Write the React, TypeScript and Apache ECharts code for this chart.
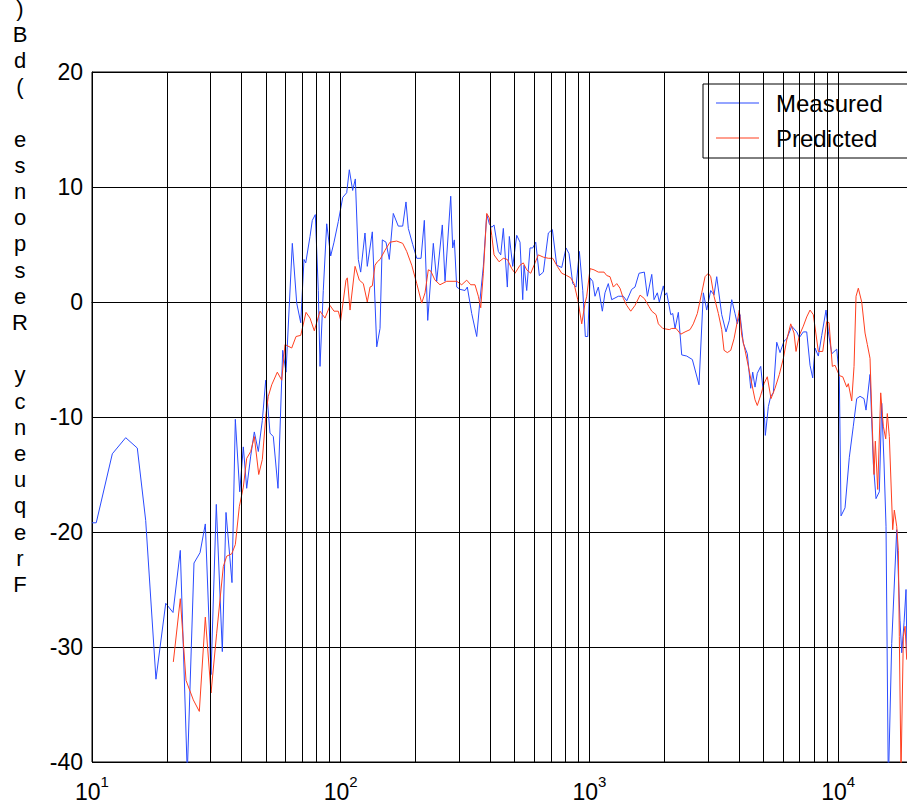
import React, { useEffect, useRef } from "react";
import * as echarts from "echarts";

const measuredFreq = [
  10, 10.4, 12.07, 13.66, 15.21, 16.44, 18.08, 19.79, 21.17, 22.65,
  24.16, 25.71, 27.19, 28.55, 30.1, 31.61, 33.42, 34.58, 36.55, 37.69,
  39.26, 40.59, 41.88, 43.46, 44.94, 46.64, 48.4, 49.94, 51.97, 53.58,
  55.96, 58.45, 60.27, 63.89, 66.55, 69.06, 71.19, 72.33, 75.27, 76.88,
  79.05, 81.27, 82.57, 85.11, 87.84, 91.15, 93.98, 97.8, 101.9, 105.7,
  108.3, 111.7, 114.5, 117.7, 120.3, 125.2, 127.9, 134, 139.6, 143.9,
  147, 152.1, 156.8, 162.7, 170.4, 177.5, 183, 187, 194.8, 202.2,
  210.4, 216.9, 223.8, 235.7, 243.2, 256.2, 262.7, 276.9, 282, 286.3,
  292.7, 301.8, 316.1, 322.9, 336.3, 352.3, 363.2, 374.5, 386.5, 395.9,
  404.8, 413.5, 430.3, 440, 450.7, 467.7, 476.4, 491.6, 510.2, 526,
  539.3, 545.8, 559.6, 577, 591.6, 608.3, 629, 652.8, 683.7, 709.5,
  738.9, 773.9, 805.4, 827.9, 857, 883.6, 911.1, 940.3, 962.9, 984.5,
  1006, 1031, 1053, 1086, 1127, 1155, 1191, 1229, 1307, 1369,
  1413, 1479, 1525, 1583, 1663, 1710, 1781, 1819, 1875, 1910,
  1982, 2014, 2046, 2123, 2163, 2210, 2278, 2350, 2461, 2593,
  2758, 2871, 2962, 3074, 3170, 3250, 3404, 3542, 3651, 3734,
  3850, 3932, 4032, 4157, 4314, 4452, 4535, 4633, 4732, 4884,
  5003, 5097, 5241, 5358, 5489, 5664, 5840, 6061, 6214, 6508,
  6816, 6982, 7245, 7476, 7709, 7904, 8074, 8325, 8592, 8941,
  9134, 9426, 9872, 10111, 10273, 10659, 11092, 11509, 11877, 12246,
  12706, 12945, 13434, 13849, 14200, 14642, 14970, 15294, 15579, 15916,
  16423, 17200, 17736, 18017, 18408, 18750, 18923,
];

const measuredDb = [
  -19.2, -19.2, -13.2, -11.8, -12.7, -19, -32.8, -26.2, -27, -21.6,
  -41, -22.7, -21.8, -19.3, -32.4, -17.6, -30.4, -18.3, -24.4, -10.2,
  -16.5, -12.6, -16.2, -13.4, -11.3, -13, -10.3, -6.8, -11.4, -11.7,
  -16.2, -4.2, -6.1, 5.1, -0.1, -1.8, 3.7, 3.4, 5.7, 7.1,
  7.6, 1.0, -5.6, 1.0, 6.8, 4.0, 5.2, 7.0, 9.1, 9.5,
  11.5, 9.7, 10.7, 3.7, 2.6, 6.0, 3.1, 6.1, -3.9, -2.3,
  5.4, 5.2, 3.7, 7.7, 6.6, 6.6, 8.7, 6.4, 5.0, 3.8,
  3.8, 7.1, -1.6, 5.1, 1.8, 6.7, 1.8, 9.2, 4.7, 5.4,
  1.3, 1.1, 1.0, 1.3, -1.0, -3.0, 0.2, 3.1, 7.6, 6.8,
  6.5, 6.7, 4.4, 4.1, 6.4, 1.3, 5.7, 3.1, 5.8, 5.2,
  0.2, 3.2, 1.0, 4.7, 4.7, 5.2, 2.3, 2.6, 6.0, 6.3,
  3.2, 3.0, 4.7, 4.2, 1.6, 1.3, 4.4, 1.0, -3.0, -3.0,
  2.1, 1.8, 0.5, 1.3, -0.8, 0.8, 1.6, 0.2, 0.5, 0.5,
  0.1, 1.1, 1.3, 2.5, 2.6, 0.5, 2.4, 0.2, 0.8, 0.0,
  1.4, 0.6, 0.8, -1.1, -1.0, -2.3, -0.9, -4.6, -4.7, -5.0,
  -7.2, 0.8, -0.7, 1.0, 0.6, 2.2, -1.1, -2.6, -1.6, 0.2,
  -1.0, -1.9, -1.1, -3.6, -4.5, -7.5, -6.1, -7.4, -6.2, -5.6,
  -7.9, -11.6, -9.1, -8.2, -7.9, -3.5, -4.4, -3.4, -3.2, -2.1,
  -2.6, -3.1, -2.6, -2.6, -5.5, -6.6, -4.0, -4.7, -2.9, -0.7,
  -2.6, -4.5, -4.1, -6.5, -18.6, -17.9, -13.5, -10.8, -8.4, -8.2,
  -8.4, -9.4, -6.3, -14.0, -17.1, -16.5, -8.8, -14.0, -19.5, -42,
  -29.7, -19.8, -27.7, -30.5, -27.9, -25.0, -31,
];

const predictedFreq = [
  21.23, 22.65, 23.88, 25.55, 27.01, 28.55, 30.1, 31.72, 33.73, 34.8,
  36.45, 37.69, 39.11, 40.59, 41.88, 43.46, 44.94, 46.81, 48.4, 50.08,
  51.16, 52.8, 55.6, 57.92, 59.7, 63.53, 66.12, 69.06, 72.53, 75.27,
  78.31, 82.57, 86.48, 90.57, 93.98, 97.8, 100, 105, 106.3, 109,
  114.2, 118.8, 123.3, 127.9, 131.2, 134, 137.4, 140.4, 143.9, 150.7,
  157.8, 167.9, 177.5, 184.2, 193, 202.2, 211.7, 218.3, 225, 230.1,
  239.4, 250.7, 266.8, 292.7, 306.6, 321.1, 333.2, 346.7, 357.6, 365.6,
  374.5, 386.5, 395.9, 404.8, 413.5, 433.1, 450.7, 467.7, 487.2, 502.3,
  526, 542.3, 559.6, 580.8, 604.4, 623.1, 652.8, 683.7, 712, 743,
  773.9, 810.6, 841.2, 867.4, 897.6, 931.3, 960.2, 975.2, 1006, 1043,
  1086, 1145, 1174, 1210, 1248, 1288, 1327, 1369, 1413, 1466,
  1525, 1598, 1663, 1736, 1781, 1853, 1893, 1972, 2096, 2142,
  2230, 2329, 2424, 2539, 2617, 2716, 2829, 2917, 3007, 3074,
  3170, 3299, 3404, 3477, 3585, 3700, 3814, 3932, 4005, 4097,
  4224, 4355, 4495, 4633, 4732, 4884, 5036, 5191, 5372, 5575,
  5802, 6022, 6214, 6448, 6648, 6772, 6982, 7245, 7476, 7709,
  7948, 8325, 8672, 8999, 9193, 9478, 9716, 10111, 10435, 10829,
  10990, 11342, 11586, 11803, 12056, 12442, 12829, 13104, 13434, 13647,
  13942, 14110, 14426, 14833, 15196, 15536, 15767, 16064, 16576, 16826,
  17200, 17460, 17622, 17901, 18290, 18578, 18870,
];

const predictedDb = [
  -31.3, -25.8, -32.9, -34.6, -35.6, -27.4, -34, -28.8, -23, -22.1,
  -21.9, -21.1, -17.8, -16.1, -13.6, -13, -11.7, -15, -13.7, -9.7,
  -8.2, -7.2, -6.1, -6.8, -3.7, -4.0, -3.0, -2.9, -0.9, -1.4,
  -2.5, -0.8, -1.4, -0.3, -0.8, -0.8, -1.6, 1.9, 2.1, -0.7,
  3.1, 1.9, 1.6, 0.0, 1.3, 1.4, 3.2, 3.5, 3.7, 4.5,
  5.2, 5.3, 5.1, 4.4, 3.2, 1.6, -0.1, 0.8, 2.8, 2.7,
  1.9, 1.5, 1.8, 1.8, 1.5, 1.9, 1.5, 1.5, 0.5, -0.5,
  2.5, 7.7, 7.3, 5.8, 4.1, 3.5, 3.8, 3.7, 2.9, 2.5,
  3.2, 3.4, 2.8, 2.5, 3.4, 4.1, 3.9, 3.8, 3.8, 3.1,
  2.5, 2.3, 2.1, 1.6, 0.2, -1.9, -0.1, 0.5, 2.9, 2.8,
  2.6, 2.6, 2.3, 2.2, 1.3, 1.6, 1.2, 0.3, -0.3, -0.8,
  -0.3, 0.6, 0.3, -0.4, -0.8, -1.1, -1.9, -2.3, -2.4, -2.3,
  -2.3, -2.8, -2.6, -2.4, -1.9, -1.0, 0.8, 2.2, 2.5, 2.2,
  0.5, -1.0, -2.4, -4.2, -4.4, -4.2, -3.2, -1.7, -0.7, -2.9,
  -4.2, -5.6, -7.1, -8.5, -9.0, -8.1, -7.1, -6.5, -8.4, -7.5,
  -6.3, -4.9, -3.3, -1.9, -2.7, -4.3, -2.9, -2.1, -1.3, -0.7,
  -1.1, -4.3, -4.3, -1.7, -1.8, -5.6, -5.5, -6.4, -6.5, -7.4,
  -7.1, -8.6, -5.6, 0.5, 1.2, 0.0, -2.7, -3.7, -4.9, -9.4,
  -15.0, -12.1, -16.3, -7.9, -10.8, -11.9, -9.7, -11.7, -19.8, -18.1,
  -19.5, -21.6, -29.1, -41, -29.1, -28.2, -31.1,
];

const gridFrequencies = [
  20, 30, 40, 50, 60, 70, 80, 90,
  100, 200, 300, 400, 500, 600, 700, 800, 900,
  1000, 2000, 3000, 4000, 5000, 6000, 7000, 8000, 9000,
  10000,
];

const seriesNames = ["Measured", "Predicted"];
const yAxisTitle = "Frequency Response (dB)";
const xMin = 10;
const xMax = 20000;
const yMin = -40;
const yMax = 20;
const yStep = 10;

const FONT = "Liberation Sans, Arial, Helvetica, sans-serif";

export default function App() {
  const ref = useRef<HTMLDivElement>(null);

  useEffect(() => {
    if (!ref.current) return;
    const chart = echarts.init(ref.current, null, { renderer: "svg" });

    const zip = (xs: number[], ys: number[]) => xs.map((x, i) => [x, ys[i]]);
    const titleStacked = yAxisTitle.split("").reverse().join("\n");

    chart.setOption({
      animation: false,
      backgroundColor: "#fff",
      textStyle: { fontFamily: FONT },
      grid: {
        left: 92,
        top: 72,
        width: 821,
        height: 690,
        containLabel: false,
        outerBoundsMode: "none",
        show: true,
        borderColor: "#000",
        borderWidth: 1,
        backgroundColor: "transparent",
      },
      legend: {
        data: seriesNames,
        orient: "vertical",
        left: 703,
        top: 84,
        icon: "rect",
        itemWidth: 43,
        itemHeight: 1,
        itemGap: 11,
        padding: [7, 25, 8, 13],
        backgroundColor: "#fff",
        borderColor: "#000",
        borderWidth: 1,
        borderRadius: 0,
        selectedMode: false,
        textStyle: {
          fontSize: 24,
          lineHeight: 24,
          color: "#000",
          fontFamily: FONT,
          padding: [0, 0, 0, 12],
        },
      },
      xAxis: {
        type: "log",
        logBase: 10,
        min: xMin,
        max: xMax,
        axisLine: { show: true, lineStyle: { color: "#000", width: 1 } },
        axisTick: { show: false },
        splitLine: { show: false },
        axisLabel: {
          margin: 12,
          color: "#000",
          formatter: (v: number) => {
            const e = Math.round(Math.log10(v));
            if (Math.abs(Math.pow(10, e) - v) > 1e-6 * v) return "";
            return `{b|10}{s|${e}}`;
          },
          rich: {
            b: { fontSize: 23, fontFamily: FONT, color: "#000", verticalAlign: "bottom" },
            s: {
              fontSize: 15,
              fontFamily: FONT,
              color: "#000",
              padding: [0, 0, 14, 0],
              verticalAlign: "bottom",
            },
          },
        },
      },
      yAxis: {
        type: "value",
        min: yMin,
        max: yMax,
        interval: yStep,
        axisLine: { show: true, lineStyle: { color: "#000", width: 1 } },
        axisTick: { show: false },
        splitLine: { show: true, lineStyle: { color: "#000", width: 1 } },
        axisLabel: { fontSize: 23, color: "#000", margin: 9, fontFamily: FONT },
      },
      graphic: [
        {
          type: "text",
          x: 20,
          y: -5,
          style: {
            text: titleStacked,
            font: `22px ${FONT}`,
            lineHeight: 26.2,
            fill: "#000",
            textAlign: "center",
            textVerticalAlign: "top",
          },
          silent: true,
        },
      ],
      series: [
        {
          name: "__grid",
          type: "line",
          data: [],
          z: 1,
          silent: true,
          markLine: {
            silent: true,
            symbol: ["none", "none"],
            label: { show: false },
            lineStyle: { color: "#000", width: 1, type: "solid" },
            emphasis: { disabled: true },
            data: gridFrequencies.map((f) => ({ xAxis: f })),
          },
        },
        {
          name: seriesNames[0],
          type: "line",
          data: zip(measuredFreq, measuredDb),
          showSymbol: false,
          symbol: "none",
          clip: true,
          z: 3,
          lineStyle: { color: "#2a4bff", width: 1 },
          itemStyle: { color: "#2a4bff" },
        },
        {
          name: seriesNames[1],
          type: "line",
          data: zip(predictedFreq, predictedDb),
          showSymbol: false,
          symbol: "none",
          clip: true,
          z: 4,
          lineStyle: { color: "#ff3f1f", width: 1 },
          itemStyle: { color: "#ff3f1f" },
        },
      ],
    });

    return () => chart.dispose();
  }, []);

  return (
    <div
      ref={ref}
      style={{ position: "absolute", left: 0, top: 0, width: 907, height: 805 }}
    />
  );
}
